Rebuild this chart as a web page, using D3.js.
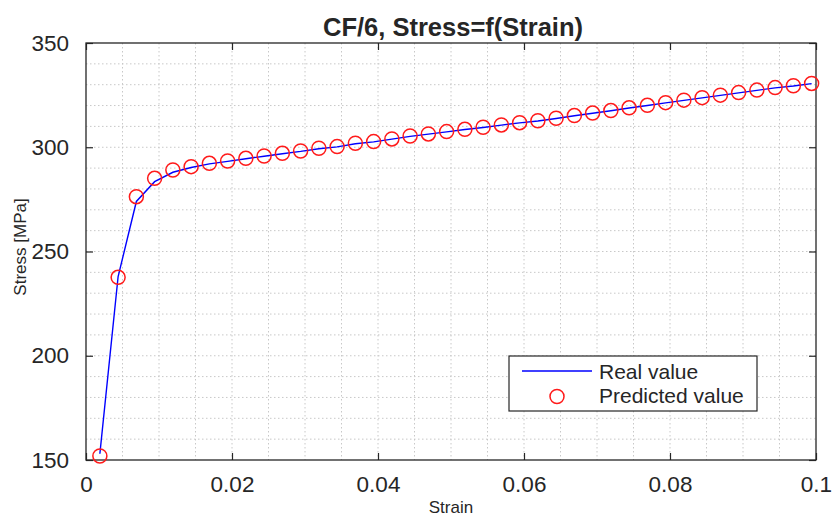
<!DOCTYPE html>
<html>
<head>
<meta charset="utf-8">
<script src="https://cdn.jsdelivr.net/npm/d3@7"></script>
<style>
  body { margin: 0; background: #fff; }
  svg text { font-family: "Liberation Sans", Arial, sans-serif; fill: #262626; }
</style>
</head>
<body>
<div class="chart"></div>
<script>
// Data
var strain = [0.0019, 0.0044, 0.0069, 0.0094, 0.0119, 0.0144, 0.0169, 0.0194, 0.0219, 0.0244,
              0.0269, 0.0294, 0.0319, 0.0344, 0.0369, 0.0394, 0.0419, 0.0444, 0.0469, 0.0494,
              0.0519, 0.0544, 0.0569, 0.0594, 0.0619, 0.0644, 0.0669, 0.0694, 0.0719, 0.0744,
              0.0769, 0.0794, 0.0819, 0.0844, 0.0869, 0.0894, 0.0919, 0.0944, 0.0969, 0.0994];
var predicted = [151.9, 237.6, 276.3, 285.1, 289.1, 290.7, 292.3, 293.4, 294.7, 295.8,
                 297.1, 298.2, 299.5, 300.3, 301.9, 302.7, 304.0, 305.4, 306.4, 307.5,
                 308.6, 309.6, 310.7, 311.8, 312.7, 313.9, 315.2, 316.4, 317.6, 318.9,
                 320.1, 321.4, 322.6, 323.8, 325.0, 326.2, 327.4, 328.6, 329.5, 330.6];
var real = [153.0, 238.0, 274.0, 283.5, 288.0, 290.3, 292.0, 293.2, 294.5, 295.7,
            296.9, 298.0, 299.3, 300.2, 301.7, 302.6, 303.9, 305.2, 306.3, 307.4,
            308.5, 309.5, 310.6, 311.7, 312.6, 313.8, 315.1, 316.3, 317.5, 318.8,
            320.0, 321.3, 322.5, 323.7, 324.9, 326.1, 327.3, 328.5, 329.4, 330.5];
var xTicks = [0, 0.02, 0.04, 0.06, 0.08, 0.1];
var yTicks = [150, 200, 250, 300, 350];
var legendNames = ["Real value", "Predicted value"];

var svgWidth = 832, svgHeight = 518;
var margin = {top: 43, right: 16, bottom: 58, left: 86};
var width = svgWidth - margin.left - margin.right;
var height = svgHeight - margin.top - margin.bottom;

var svg = d3.select(".chart")
    .append("svg")
    .attr("width", svgWidth)
    .attr("height", svgHeight);

var chart = svg.append("g")
    .attr("transform", "translate(" + margin.left + "," + margin.top + ")");

var x = d3.scaleLinear().domain([0, 0.1]).range([0, width]);
var y = d3.scaleLinear().domain([150, 350]).range([height, 0]);

// dotted grid (minor + major)
var gridX = d3.range(1, 20).map(function(i) { return i * 0.005; });
var gridY = d3.range(1, 20).map(function(i) { return 150 + i * 10; });

chart.append("g").selectAll("line")
    .data(gridX).enter().append("line")
    .attr("x1", function(d) { return x(d); })
    .attr("x2", function(d) { return x(d); })
    .attr("y1", 0).attr("y2", height)
    .style("stroke", "#c8c8c8").style("stroke-width", 1)
    .style("stroke-dasharray", "1.5,2.5");

chart.append("g").selectAll("line")
    .data(gridY).enter().append("line")
    .attr("y1", function(d) { return y(d); })
    .attr("y2", function(d) { return y(d); })
    .attr("x1", 0).attr("x2", width)
    .style("stroke", "#c8c8c8").style("stroke-width", 1)
    .style("stroke-dasharray", "1.5,2.5");

// axes with inward ticks
var bottomAxis = d3.axisBottom(x).tickValues(xTicks).tickSizeInner(-7).tickSizeOuter(0)
    .tickPadding(16).tickFormat(function(d) { return d === 0 ? "0" : d3.format("~g")(d); });
var topAxis = d3.axisTop(x).tickValues(xTicks).tickSizeInner(-7).tickSizeOuter(0).tickFormat("");
var leftAxis = d3.axisLeft(y).tickValues(yTicks).tickSizeInner(-7).tickSizeOuter(0).tickPadding(17);
var rightAxis = d3.axisRight(y).tickValues(yTicks).tickSizeInner(-7).tickSizeOuter(0).tickFormat("");

function styleAxis(g) {
    g.select(".domain").remove();
    g.selectAll("line").style("stroke", "#262626").style("stroke-width", 1.2);
    g.selectAll("text").style("font-size", "22.5px").style("fill", "#262626");
}

chart.append("g").attr("transform", "translate(0," + height + ")").call(bottomAxis).call(styleAxis);
chart.append("g").call(topAxis).call(styleAxis);
chart.append("g").call(leftAxis).call(styleAxis);
chart.append("g").attr("transform", "translate(" + width + ",0)").call(rightAxis).call(styleAxis);

chart.append("rect")
    .attr("width", width).attr("height", height)
    .style("fill", "none").style("stroke", "#262626").style("stroke-width", 1.3);

// real value line
var line = d3.line()
    .x(function(d, i) { return x(strain[i]); })
    .y(function(d) { return y(d); });

chart.append("path")
    .datum(real)
    .attr("d", line)
    .style("fill", "none")
    .style("stroke", "#0000ff")
    .style("stroke-width", 1.4);

// predicted value markers
chart.selectAll(".pred")
    .data(predicted).enter().append("circle")
    .attr("class", "pred")
    .attr("cx", function(d, i) { return x(strain[i]); })
    .attr("cy", function(d) { return y(d); })
    .attr("r", 7)
    .style("fill", "none")
    .style("stroke", "#ff1a1a")
    .style("stroke-width", 1.5);

// title and axis labels
svg.append("text")
    .attr("x", 453).attr("y", 36)
    .attr("text-anchor", "middle")
    .style("font-size", "25.5px").style("font-weight", "bold")
    .text("CF/6, Stress=f(Strain)");

svg.append("text")
    .attr("x", margin.left + width / 2).attr("y", 513)
    .attr("text-anchor", "middle")
    .style("font-size", "17px")
    .text("Strain");

svg.append("text")
    .attr("transform", "translate(26,247) rotate(-90)")
    .attr("text-anchor", "middle")
    .style("font-size", "17px")
    .text("Stress [MPa]");

// legend
var legend = svg.append("g").attr("transform", "translate(509,356)");
legend.append("rect")
    .attr("width", 248).attr("height", 55)
    .style("fill", "#fff").style("stroke", "#262626").style("stroke-width", 1.2);
legend.append("line")
    .attr("x1", 13).attr("x2", 83).attr("y1", 15).attr("y2", 15)
    .style("stroke", "#0000ff").style("stroke-width", 1.4);
legend.append("circle")
    .attr("cx", 48).attr("cy", 40.5).attr("r", 7)
    .style("fill", "none").style("stroke", "#ff1a1a").style("stroke-width", 1.5);
legend.selectAll(".lt")
    .data(legendNames).enter().append("text")
    .attr("x", 90)
    .attr("y", function(d, i) { return 22.5 + i * 24.5; })
    .style("font-size", "21px")
    .text(function(d) { return d; });
</script>
</body>
</html>
